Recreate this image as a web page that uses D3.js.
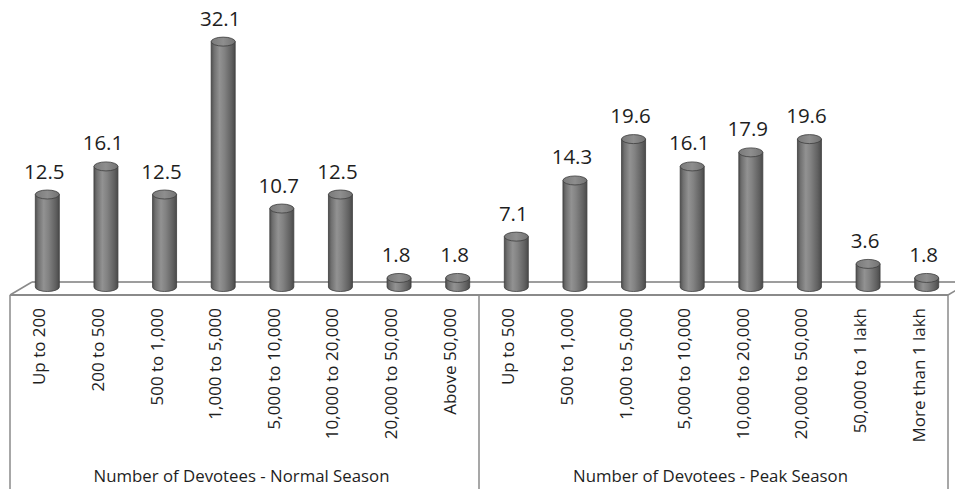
<!DOCTYPE html>
<html><head><meta charset="utf-8">
<script src="https://cdn.jsdelivr.net/npm/d3@7"></script>
<style>html,body{margin:0;padding:0;background:#fff;}svg{display:block;}</style>
</head><body>
<svg id="chart" width="955" height="489"></svg>
<script>
const normalCategories = ["Up to 200","200 to 500","500 to 1,000","1,000 to 5,000","5,000 to 10,000","10,000 to 20,000","20,000 to 50,000","Above 50,000"];
const normalValues = [12.5,16.1,12.5,32.1,10.7,12.5,1.8,1.8];
const peakCategories = ["Up to 500","500 to 1,000","1,000 to 5,000","5,000 to 10,000","10,000 to 20,000","20,000 to 50,000","50,000 to 1 lakh","More than 1 lakh"];
const peakValues = [7.1,14.3,19.6,16.1,17.9,19.6,3.6,1.8];
const groupLabels = ["Number of Devotees - Normal Season","Number of Devotees - Peak Season"];

const data = [];
normalCategories.forEach((c,i)=>data.push({idx:data.length, cat:c, value:normalValues[i], group:0}));
peakCategories.forEach((c,i)=>data.push({idx:data.length, cat:c, value:peakValues[i], group:1}));

const svg = d3.select("#chart");
const font = "'Open Sans', 'Noto Sans', sans-serif";

const floorFrontY = 295, floorBackY = 282, depthX = 22;
const x = d3.scaleBand().domain(d3.range(data.length)).range([10, 948]).paddingInner(0).paddingOuter(0);
const y = d3.scaleLinear().domain([0, 35]).range([292, 19]);
const barW = 24, ry = 4.5, barOffset = 8, baseY = 287;

const defs = svg.append("defs");
const g = defs.append("linearGradient").attr("id","cyl").attr("x1","0%").attr("x2","100%").attr("y1","0%").attr("y2","0%");
[[0,"#505050"],[0.12,"#707070"],[0.35,"#929292"],[0.55,"#828282"],[0.85,"#606060"],[1,"#4a4a4a"]].forEach(([o,c])=>g.append("stop").attr("offset",o).attr("stop-color",c));
const gt = defs.append("linearGradient").attr("id","cyltop").attr("x1","0%").attr("x2","100%");
[[0,"#7a7a7a"],[0.5,"#8e8e8e"],[1,"#727272"]].forEach(([o,c])=>gt.append("stop").attr("offset",o).attr("stop-color",c));

// floor back edge and sides
svg.append("line").attr("x1",x.range()[0]+depthX).attr("x2",x.range()[1]+depthX).attr("y1",floorBackY).attr("y2",floorBackY).attr("stroke","#7d7d7d").attr("stroke-width",1.5);
svg.append("line").attr("x1",x.range()[0]).attr("x2",x.range()[0]+depthX).attr("y1",floorFrontY).attr("y2",floorBackY).attr("stroke","#8a8a8a").attr("stroke-width",1.5);
svg.append("line").attr("x1",x.range()[1]).attr("x2",x.range()[1]+depthX).attr("y1",floorFrontY).attr("y2",floorBackY).attr("stroke","#8a8a8a").attr("stroke-width",1.5);

// bars
const bars = svg.append("g").selectAll("g").data(data).join("g");
bars.each(function(d){
  const cx = x(d.idx) + x.bandwidth()/2 + barOffset;
  const ty = y(d.value);
  const sel = d3.select(this);
  const l = cx - barW/2, r = cx + barW/2;
  sel.append("path")
    .attr("d", `M${l},${ty} L${l},${baseY} A${barW/2},${ry} 0 0 0 ${r},${baseY} L${r},${ty} Z`)
    .attr("fill","url(#cyl)").attr("stroke","#3e3e3e").attr("stroke-width",0.8);
  sel.append("ellipse").attr("cx",cx).attr("cy",ty).attr("rx",barW/2).attr("ry",ry)
    .attr("fill","url(#cyltop)").attr("stroke","#3e3e3e").attr("stroke-width",0.8);
  sel.append("text").attr("x",cx-3).attr("y",ty-16).attr("text-anchor","middle")
    .attr("font-family",font).attr("font-size",20.5).attr("fill","#1e1e1e").text(d3.format(".1f")(d.value));
});

// floor front edge
svg.append("line").attr("x1",x.range()[0]).attr("x2",x.range()[1]).attr("y1",floorFrontY).attr("y2",floorFrontY).attr("stroke","#8a8a8a").attr("stroke-width",2);

// verticals
[0, 8, 16].forEach(i=>{
  const xv = i===16 ? x.range()[1] : x(i);
  svg.append("line").attr("x1",xv).attr("x2",xv).attr("y1",floorFrontY).attr("y2",489).attr("stroke","#8a8a8a").attr("stroke-width",1.5);
});

// category labels
svg.append("g").selectAll("text").data(data).join("text")
  .attr("transform", d=>`translate(${x(d.idx)+x.bandwidth()/2+6},308) rotate(-90)`)
  .attr("text-anchor","end").attr("font-family",font).attr("font-size",17).attr("fill","#1e1e1e")
  .text(d=>d.cat);

// group labels
groupLabels.forEach((t,gi)=>{
  const x0 = x(gi*8), x1 = gi===1 ? x.range()[1] : x(8);
  svg.append("text").attr("x",(x0+x1)/2-3).attr("y",482).attr("text-anchor","middle")
    .attr("font-family",font).attr("font-size",16.8).attr("fill","#1e1e1e").text(t);
});
</script>
</body></html>
